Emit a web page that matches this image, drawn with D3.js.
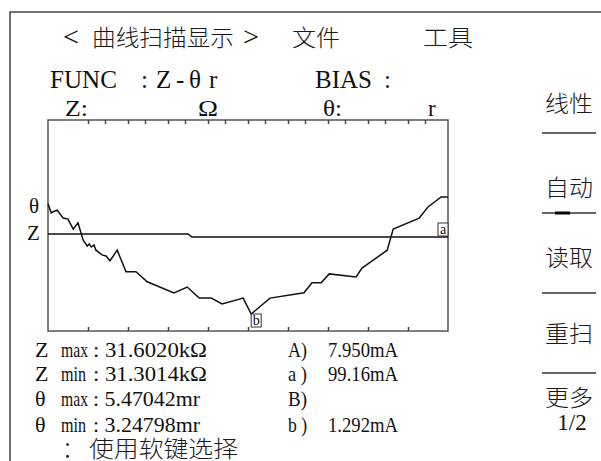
<!DOCTYPE html>
<html>
<head>
<meta charset="utf-8">
<script src="https://cdn.jsdelivr.net/npm/d3@7/dist/d3.min.js"></script>
<style>
body { margin: 0; background: #fff; }
svg { display: block; }
.cjk { font-family: "Noto Sans CJK SC", sans-serif; font-weight: 300; fill: #1a1a1a; }
.lat { font-family: "Liberation Serif", "Times New Roman", serif; fill: #111; }
</style>
</head>
<body>
<svg id="chart" width="601" height="461"></svg>
<script>
// sweep position in screen divisions (0..10) and phase angle in mr
var sweepPos = [0, 0.08, 0.13, 0.23, 0.38, 0.5, 0.63, 0.75, 0.88, 0.98, 1.03, 1.08, 1.15, 1.2,
  1.35, 1.45, 1.55, 1.73, 1.95, 2.2, 2.48, 3.15, 3.48, 3.78, 4.08, 4.35, 4.88, 5.08,
  5.55, 6.4, 6.6, 6.83, 7.03, 7.7, 7.85, 8.48, 8.63, 9.28, 9.5, 9.83, 10];
var thetaVals = [5.34, 5.17, 5.19, 5.22, 5.07, 5.05, 4.86, 4.98, 4.65, 4.54, 4.58, 4.52, 4.56, 4.46,
  4.37, 4.35, 4.26, 4.46, 4.05, 4.05, 3.86, 3.65, 3.76, 3.55, 3.55, 3.44, 3.55, 3.248,
  3.55, 3.65, 3.84, 3.84, 4.01, 3.95, 4.12, 4.46, 4.86, 5.07, 5.28, 5.47, 5.47];
// impedance trace, kΩ
var zPos = [0, 3.5, 3.6, 10];
var zVals = [31.6020, 31.6020, 31.3014, 31.3014];

var majorTicks = [1, 2, 3, 4, 5, 6, 7, 8, 9];
var minorOffset = 0.425;

var menuItems = ["线性", "自动", "读取", "重扫", "更多"];
var menuSub = "1/2";
var readParam = ["Z", "Z", "θ", "θ"];
var readKind = ["max", "min", "max", "min"];
var readValue = ["31.6020kΩ", "31.3014kΩ", "5.47042mr", "3.24798mr"];
var markLabel = ["A)", "a )", "B)", "b )"];
var markValue = ["7.950mA", "99.16mA", "", "1.292mA"];

var svg = d3.select("#chart");

var x = d3.scaleLinear().domain([0, 10]).range([48, 448]);
var yTheta = d3.scaleLinear().domain([3.24798, 5.47042]).range([314, 197]);
var yZ = d3.scaleLinear().domain([31.3014, 31.6020]).range([237, 234]);

// outer frame (left + top)
svg.append("path")
  .attr("d", "M10,461 L10,12 L601,12")
  .attr("fill", "none")
  .attr("stroke", "#444")
  .attr("stroke-width", 1.5);

// small helper: text squeezed to a given width, like the instrument font
function txt(cls, s, px, py, size, w) {
  var t = svg.append("text").attr("class", cls).attr("x", px).attr("y", py)
    .attr("font-size", size).text(s);
  if (w) t.attr("textLength", w).attr("lengthAdjust", "spacingAndGlyphs");
  return t;
}

// title row
txt("lat", "<", 63, 46, 27, 16);
txt("cjk", "曲线扫描显示", 92, 46, 23, 142);
txt("lat", ">", 243, 46, 27, 16);
txt("cjk", "文件", 292, 46, 23, 48);
txt("cjk", "工具", 423, 46, 23, 50);

// FUNC row
txt("lat", "FUNC", 50, 88, 25, 67);
txt("lat", ":", 141, 88, 25);
txt("lat", "Z", 156, 88, 25);
txt("lat", "-", 176, 88, 25);
txt("lat", "θ", 189, 88, 25);
txt("lat", "r", 209, 88, 25);
txt("lat", "BIAS", 315, 88, 25, 57);
txt("lat", ":", 384, 88, 25);

txt("lat", "Z:", 65, 116, 23, 23);
txt("lat", "Ω", 198, 116, 23, 20);
txt("lat", "θ:", 323, 116, 23, 19);
txt("lat", "r", 428, 116, 23);

// plot box
svg.append("rect")
  .attr("x", x(0)).attr("y", 120)
  .attr("width", x(10) - x(0)).attr("height", 331 - 120)
  .attr("fill", "none").attr("stroke", "#555").attr("stroke-width", 1.5);

var topTicks = [];
majorTicks.forEach(function (k) { topTicks.push(k); topTicks.push(k + minorOffset); });

var topAxis = d3.axisTop(x).tickValues(topTicks).tickSizeInner(-4).tickSizeOuter(0).tickFormat("");
var gTop = svg.append("g").attr("transform", "translate(0,120)").call(topAxis);
var botAxis = d3.axisBottom(x).tickValues(majorTicks).tickSizeInner(-4).tickSizeOuter(0).tickFormat("");
var gBot = svg.append("g").attr("transform", "translate(0,331)").call(botAxis);
[gTop, gBot].forEach(function (g) {
  g.select(".domain").remove();
  g.selectAll("line").attr("stroke", "#444").attr("stroke-width", 1.5);
});

// traces
var thetaData = sweepPos.map(function (p, i) { return [p, thetaVals[i]]; });
var zData = zPos.map(function (p, i) { return [p, zVals[i]]; });

svg.append("path")
  .attr("d", d3.line().x(function (d) { return x(d[0]); }).y(function (d) { return yZ(d[1]); })(zData))
  .attr("fill", "none").attr("stroke", "#111").attr("stroke-width", 1.5);
svg.append("path")
  .attr("d", d3.line().x(function (d) { return x(d[0]); }).y(function (d) { return yTheta(d[1]); })(thetaData))
  .attr("fill", "none").attr("stroke", "#111").attr("stroke-width", 1.5);

// trace labels on the left
txt("lat", "θ", 29, 213, 21);
txt("lat", "Z", 27, 240, 21);

// markers
function marker(label, px, py, dx, dy) {
  var g = svg.append("g").attr("transform", "translate(" + (px + dx) + "," + (py + dy) + ")");
  g.append("rect").attr("width", 10).attr("height", 13)
    .attr("fill", "#fff").attr("stroke", "#333").attr("stroke-width", 1);
  g.append("text").attr("class", "lat").attr("x", 5).attr("y", 11)
    .attr("text-anchor", "middle").attr("font-size", 14).text(label);
}
marker("a", x(10), yZ(31.3014), -10, -14);
marker("b", x(5.08), yTheta(3.24798), 0, 0);

// readouts
var rowY = [357, 381, 406, 432];
rowY.forEach(function (ry, i) {
  txt("lat", readParam[i], 35, ry, 22);
  txt("lat", readKind[i], 61, ry, 22, readKind[i] == "max" ? 27 : 25);
  txt("lat", ": " + readValue[i], 93, ry, 22, i < 2 ? 114 : 107);
  txt("lat", markLabel[i], 288, ry, 22, 19);
  if (markValue[i]) txt("lat", markValue[i], 328, ry, 22, 70);
});

txt("cjk", "：", 62, 457, 22);
txt("cjk", "使用软键选择", 89, 457, 23, 149);

// soft-key menu
var menuY = [112, 196, 266, 342, 406];
menuItems.forEach(function (m, i) {
  txt("cjk", m, 545, menuY[i], 23, 48);
});
svg.append("text").attr("class", "lat").attr("x", 572).attr("y", 430)
  .attr("text-anchor", "middle").attr("font-size", 23).text(menuSub);

var sepY = [133, 213, 293, 373];
sepY.forEach(function (sy) {
  svg.append("line").attr("x1", 542).attr("x2", 596).attr("y1", sy).attr("y2", sy)
    .attr("stroke", "#333").attr("stroke-width", 1.5);
});
svg.append("line").attr("x1", 555).attr("x2", 570).attr("y1", 213).attr("y2", 213)
  .attr("stroke", "#000").attr("stroke-width", 3);
</script>
</body>
</html>
